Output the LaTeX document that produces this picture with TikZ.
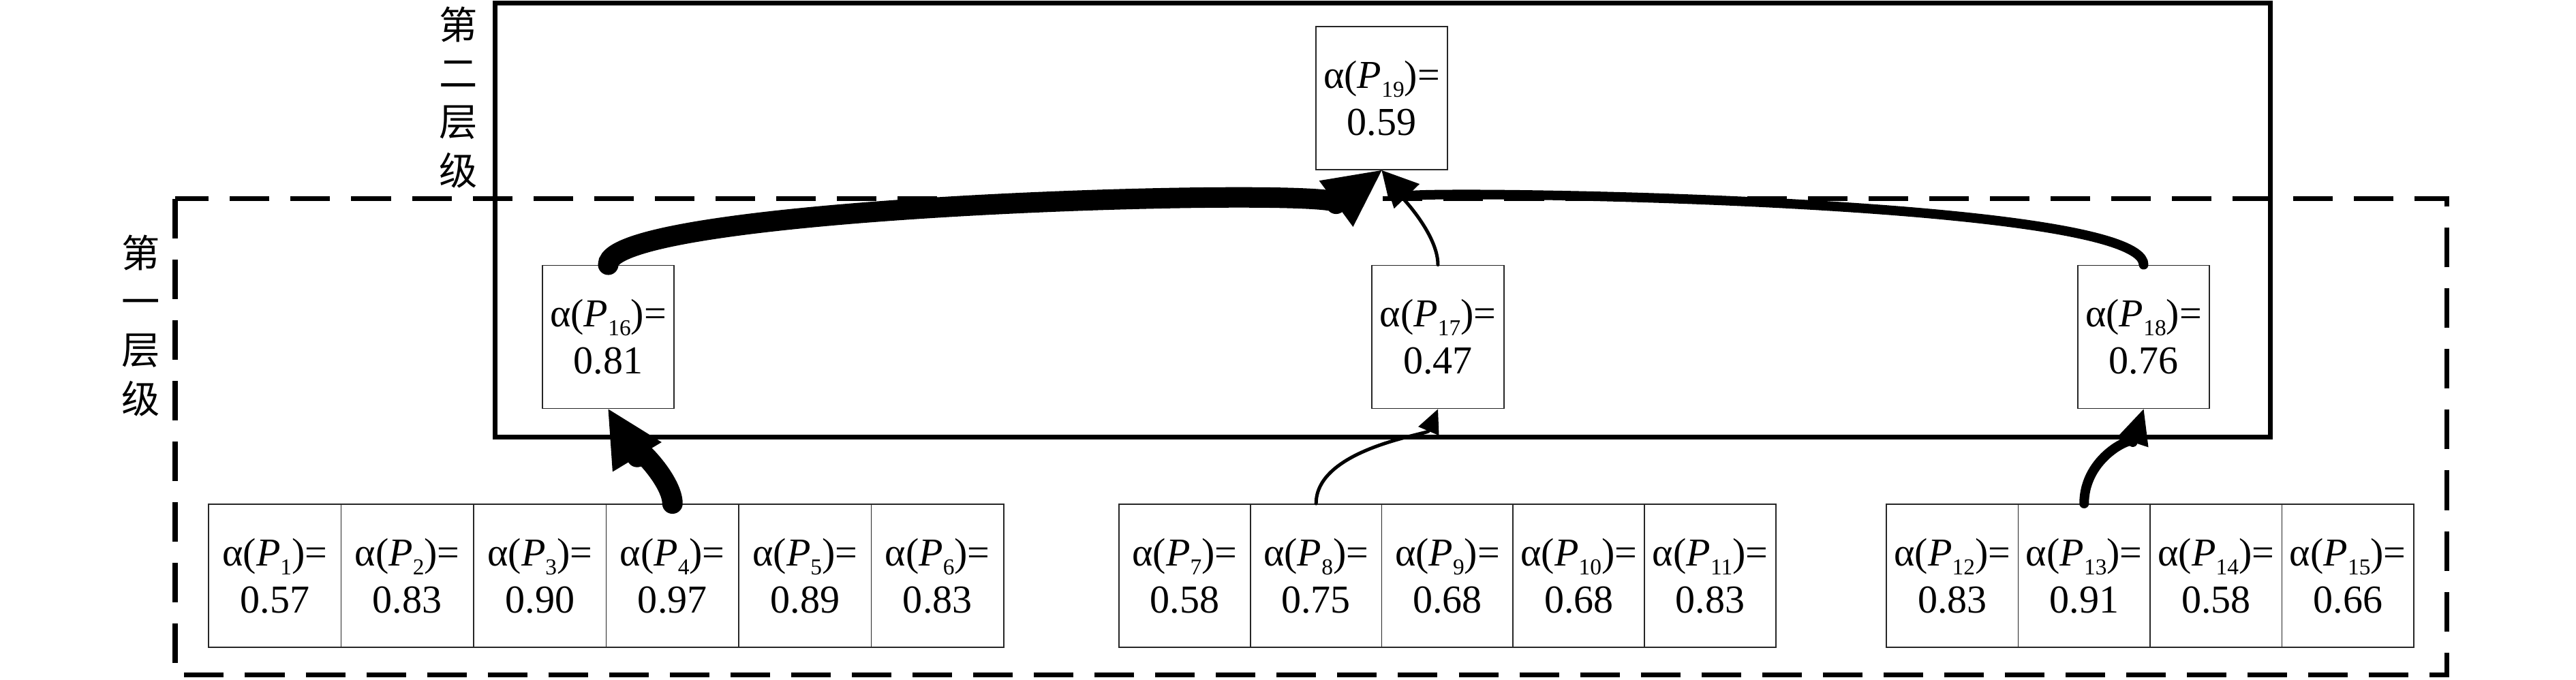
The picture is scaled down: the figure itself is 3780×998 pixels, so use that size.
\documentclass[tikz,border=0pt]{standalone}
\usepackage{fontspec}
\setmainfont{Liberation Serif}
\newfontfamily\cjkfont{Noto Sans CJK SC}
\usetikzlibrary{arrows.meta}
\newcommand\pv[2]{α(\textit{P}\raisebox{-0.22em}{\fontsize{9.5pt}{9.5pt}\selectfont #1})=\\#2}
\begin{document}
\begin{tikzpicture}[x=0.01cm,y=-0.01cm,
  vbox/.style={draw=black!85, line width=0.5pt, fill=white, minimum height=2.1cm,
    minimum width=1.935cm, inner sep=0pt, align=center,
    font=\fontsize{16.5pt}{19.6pt}\selectfont},
  gA/.style={vbox, minimum width=1.945cm},
  gB/.style={vbox, minimum width=1.928cm},
  gC/.style={vbox, minimum width=1.935cm},
  lvl/.style={align=center, inner sep=0pt, font=\cjkfont\fontsize{16pt}{20.2pt}\selectfont},
  frame/.style={line width=0.07cm},
  dframe/.style={line width=0.07cm, dash pattern=on 0.58cm off 0.31cm},
  heavy/.style={line width=0.3cm, line cap=round},
  medium/.style={line width=0.14cm, line cap=round},
  light/.style={line width=0.05cm, line cap=round},
]
\useasboundingbox (0,0) rectangle (3780,998);
% frames
\draw[dframe] (257,292) rectangle (3590,991);
\draw[frame] (726,5) rectangle (3331,642);
% level labels
\node[lvl] (L2) at (673,143) {第\\二\\层\\级};
\node[lvl] (L1) at (207,478) {第\\一\\层\\级};
% upper nodes
\node[vbox] (P19) at (2027.5,144) {\pv{19}{0.59}};
\node[vbox] (P16) at (892.5,494.5) {\pv{16}{0.81}};
\node[vbox] (P17) at (2110,494.5) {\pv{17}{0.47}};
\node[vbox] (P18) at (3145.5,494.5) {\pv{18}{0.76}};
% bottom cells
\node[gA] (c1) at (403.25,845) {\pv{1}{0.57}};
\node[gA] (c2) at (597.75,845) {\pv{2}{0.83}};
\node[gA] (c3) at (792.25,845) {\pv{3}{0.90}};
\node[gA] (c4) at (986.75,845) {\pv{4}{0.97}};
\node[gA] (c5) at (1181.25,845) {\pv{5}{0.89}};
\node[gA] (c6) at (1375.75,845) {\pv{6}{0.83}};
\node[gB] (c7) at (1738.4,845) {\pv{7}{0.58}};
\node[gB] (c8) at (1931.2,845) {\pv{8}{0.75}};
\node[gB] (c9) at (2124,845) {\pv{9}{0.68}};
\node[gB] (c10) at (2316.8,845) {\pv{10}{0.68}};
\node[gB] (c11) at (2509.6,845) {\pv{11}{0.83}};
\node[gC] (c12) at (2864.75,845) {\pv{12}{0.83}};
\node[gC] (c13) at (3058.25,845) {\pv{13}{0.91}};
\node[gC] (c14) at (3251.75,845) {\pv{14}{0.58}};
\node[gC] (c15) at (3445.25,845) {\pv{15}{0.66}};
% connectors
\draw[heavy, -{Triangle[length=0.82cm, width=0.84cm, line width=0pt]}]
  (c4.north) .. controls +(0,-40) and +(15.5,25.7) .. (P16.south);
\draw[heavy, -{Triangle[length=0.83cm, width=0.84cm, line width=0pt]}]
  (P16.north) .. controls +(0,-89) and +(-32,23.5) .. (P19.south);
\draw[light, -{Triangle[length=0.40cm, width=0.30cm, line width=0pt]}]
  (P17.north) .. controls +(0,-49) and +(16.8,25) .. (P19.south);
\draw[medium, -{Triangle[length=0.53cm, width=0.52cm, line width=0pt]}]
  (P18.north) .. controls +(0,-99) and +(28,29) .. (P19.south);
\draw[light, -{Triangle[length=0.35cm, width=0.33cm, line width=0pt]}]
  (c8.north) .. controls +(0,-80) and +(-15.6,36.8) .. (P17.south);
\draw[medium, -{Triangle[length=0.51cm, width=0.48cm, line width=0pt]}]
  (c13.north) .. controls +(0,-70) and +(-12.4,38) .. (P18.south);
\end{tikzpicture}
\end{document}
